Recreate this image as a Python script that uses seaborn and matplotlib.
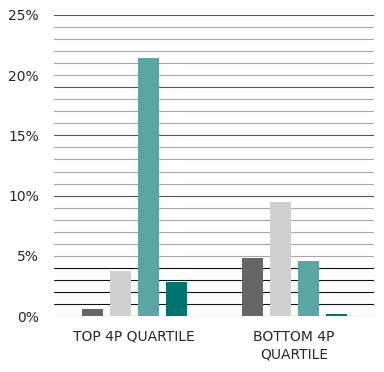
import matplotlib
matplotlib.use("Agg")
import matplotlib.pyplot as plt
import seaborn as sns
import pandas as pd
from matplotlib.ticker import FixedLocator, FuncFormatter

categories = ["TOP 4P QUARTILE", "BOTTOM 4P\nQUARTILE"]
series = ["Series 1", "Series 2", "Series 3", "Series 4"]
series1 = [0.6, 4.85]
series2 = [3.75, 9.5]
series3 = [21.4, 4.6]
series4 = [2.85, 0.15]
colors = ["#666666", "#d0d0d0", "#5ba5a5", "#00736e"]
grid_values = list(range(0, 26))
label_values = [0, 5, 10, 15, 20, 25]

rows = []
for name, vals in zip(series, [series1, series2, series3, series4]):
    for cat, v in zip(categories, vals):
        rows.append({"category": cat, "series": name, "value": v})
df = pd.DataFrame(rows)

sns.set_theme(style="white")
plt.rcParams["font.family"] = ["DejaVu Sans"]

fig = plt.figure(figsize=(3.84, 3.72), dpi=100)
ax = fig.add_axes([54 / 384, 1 - 316 / 372, 320 / 384, 301 / 372])

sns.barplot(data=df, x="category", y="value", hue="series", order=categories,
            hue_order=series, palette=colors, saturation=1, width=0.7, gap=0.25,
            legend=False, ax=ax, linewidth=0)

ax.set_ylim(0, 25)
ax.yaxis.set_major_locator(FixedLocator(grid_values))
ax.yaxis.set_major_formatter(FuncFormatter(
    lambda v, p: f"{int(round(v))}%" if int(round(v)) in label_values else ""))
ax.set_axisbelow(True)
ax.grid(axis="y", linewidth=0.8, color="#a6a6a6")
ax.grid(axis="x", visible=False)
dark = {0: "#111111", 1: "#111111", 2: "#111111", 3: "#111111", 4: "#111111",
        10: "#555555", 15: "#555555", 19: "#555555", 25: "#555555"}
for v, line in zip(grid_values, ax.get_ygridlines()):
    if v in dark:
        line.set_color(dark[v])

for s in ax.spines.values():
    s.set_visible(False)
ax.tick_params(axis="both", length=0, labelsize=10, colors="#262626")
ax.tick_params(axis="y", pad=11)
ax.tick_params(axis="x", pad=10)
for lbl in ax.get_xticklabels():
    lbl.set_linespacing(1.35)
ax.set_xlabel("")
ax.set_ylabel("")

fig.savefig("out.png", dpi=100)
